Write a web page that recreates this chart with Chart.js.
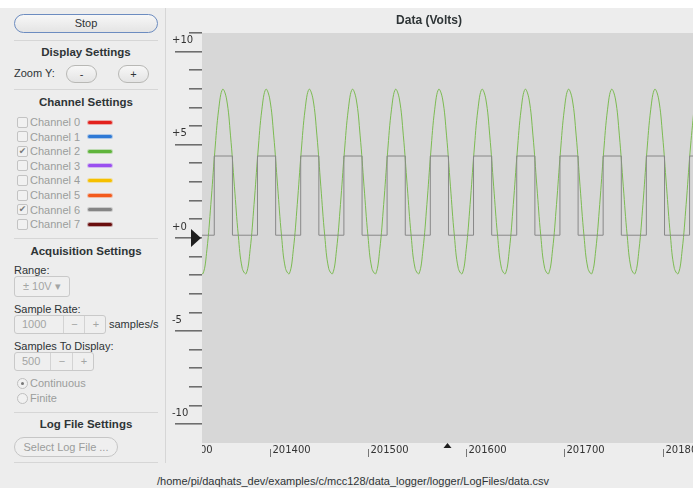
<!DOCTYPE html>
<html>
<head>
<meta charset="utf-8">
<title>MCC 128 Data Logger</title>
<script src="https://cdn.jsdelivr.net/npm/chart.js@4.4.1/dist/chart.umd.min.js"></script>
<style>
  html, body { margin: 0; padding: 0; }
  body { width: 693px; height: 488px; background: #ededed; position: relative; overflow: hidden;
         font-family: "Liberation Sans", Arial, sans-serif; font-size: 11px; color: #2e3436; }
  #topbar { position: absolute; left: 0; top: 0; width: 693px; height: 8px; background: #fff; }
  #vsep { position: absolute; left: 165px; top: 8px; width: 1px; height: 455px; background: #d6d6d6; }
  .sep { position: absolute; left: 14px; width: 144px; height: 1px; background: #d6d6d6; }
  .hdr { position: absolute; left: 14px; width: 144px; text-align: center; font-weight: bold;
         font-size: 11.5px; line-height: 14px; }
  .lbl { position: absolute; left: 14px; line-height: 14px; white-space: nowrap; }
  .dim { color: #9b9d9c; }
  .btn { position: absolute; box-sizing: border-box; border: 1px solid #b8b8b5; border-radius: 10px;
         background: linear-gradient(#f7f7f7, #e4e4e4); text-align: center; }
  .box { position: absolute; box-sizing: border-box; border: 1px solid #c9c9c9; border-radius: 3px;
         background: #efefef; color: #a3a5a4; }
  .cell { position: absolute; top: 0; bottom: 0; border-left: 1px solid #d3d3d3; text-align: center; }
  .chk { position: absolute; left: 17px; width: 11px; height: 11px; box-sizing: border-box;
         border: 1px solid #c3c3c3; border-radius: 2px; background: #f1f1f1; color: #7a7a7a;
         font-size: 9px; line-height: 9px; text-align: center; font-family: "DejaVu Sans"; }
  .sw { position: absolute; left: 88px; width: 24px; height: 3px; border-radius: 2px; }
  .radio { position: absolute; left: 17px; width: 11px; height: 11px; box-sizing: border-box;
           border: 1px solid #bfbfbf; border-radius: 50%; background: #f1f1f1; }
  .radio.on::after { content: ""; position: absolute; left: 3px; top: 3px; width: 3px; height: 3px;
                     border-radius: 50%; background: #777; }
  #chartWrap { position: absolute; left: 165px; top: 8px; width: 528px; height: 457px; }
  #status { position: absolute; left: 157px; top: 474px; line-height: 14px; white-space: nowrap; }
</style>
</head>
<body>
<div id="topbar"></div>
<div id="vsep"></div>

<div class="btn" style="left:14px;top:14px;width:144px;height:19px;line-height:17px;border-color:#6c8cc0;">Stop</div>
<div class="sep" style="top:40px"></div>

<div class="hdr" style="top:45px">Display Settings</div>
<div class="lbl" style="top:66px">Zoom Y:</div>
<div class="btn" style="left:66px;top:65px;width:31px;height:18px;line-height:16px;">-</div>
<div class="btn" style="left:118px;top:65px;width:31px;height:18px;line-height:16px;">+</div>
<div class="sep" style="top:89px"></div>

<div class="hdr" style="top:95px">Channel Settings</div>
<div id="channels"></div>
<div class="sep" style="top:238px"></div>

<div class="hdr" style="top:244px">Acquisition Settings</div>
<div class="lbl" style="top:263px">Range:</div>
<div class="box" style="left:14px;top:276px;width:56px;height:21px;line-height:19px;padding-left:8px;">± 10V ▾</div>
<div class="lbl" style="top:302px">Sample Rate:</div>
<div class="box" style="left:14px;top:315px;width:92px;height:19px;line-height:17px;">
  <span style="position:absolute;left:7px;">1000</span>
  <div class="cell" style="left:48px;width:21px;">−</div>
  <div class="cell" style="left:69px;width:22px;">+</div>
</div>
<div class="lbl" style="left:109px;top:317px">samples/s</div>
<div class="lbl" style="top:339px">Samples To Display:</div>
<div class="box" style="left:14px;top:352px;width:80px;height:19px;line-height:17px;">
  <span style="position:absolute;left:7px;">500</span>
  <div class="cell" style="left:35px;width:22px;">−</div>
  <div class="cell" style="left:57px;width:22px;">+</div>
</div>
<div class="radio on" style="top:378px"></div>
<div class="lbl dim" style="left:30px;top:376px">Continuous</div>
<div class="radio" style="top:393px"></div>
<div class="lbl dim" style="left:30px;top:391px">Finite</div>
<div class="sep" style="top:412px"></div>

<div class="hdr" style="top:417px">Log File Settings</div>
<div class="btn dim" style="left:14px;top:437px;width:104px;height:20px;line-height:18px;border-color:#c6c6c6;background:#efefef;">Select Log File ...</div>
<div class="sep" style="top:462px"></div>

<div id="chartWrap"><canvas id="dataChart"></canvas></div>
<div id="status">/home/pi/daqhats_dev/examples/c/mcc128/data_logger/logger/LogFiles/data.csv</div>

<script>
// side panel channel list
const channelNames = ['Channel 0', 'Channel 1', 'Channel 2', 'Channel 3', 'Channel 4', 'Channel 5', 'Channel 6', 'Channel 7'];
const channelColors = ['#e3211c', '#2f7ad6', '#5fb43c', '#9a4ff0', '#f6c000', '#f35b1c', '#858585', '#6a0d0d'];
const channelChecked = [false, false, true, false, false, false, true, false];

// axis ranges and ruler labels
const xMin = 201331, xMax = 201831;
const yMin = -11, yMax = 11;
const yTickValues = [10, 5, 0, -5, -10];
const yTickLabels = ['+10', '+5', '+0', '-5', '-10'];
const xTickValues = [201300, 201400, 201500, 201600, 201700, 201800];
const xTickLabels = ['201300', '201400', '201500', '201600', '201700', '201800'];
const cursorX = 201581, cursorY = 0;

// channel 2: sine, read every 4 samples starting at sample 201328
const ch2Start = 201328, ch2Step = 4;
const ch2Volts = [
  -1.63, -1.91, -0.63, 1.80, 4.61, 6.91, 7.98, 7.46, 5.52, 2.78, 0.12,
  -1.63, -1.91, -0.63, 1.80, 4.61, 6.91, 7.98, 7.46, 5.52, 2.78, 0.12,
  -1.63, -1.91, -0.63, 1.80, 4.61, 6.91, 7.98, 7.46, 5.52, 2.78, 0.12,
  -1.63, -1.91, -0.63, 1.80, 4.61, 6.91, 7.98, 7.46, 5.52, 2.78, 0.12,
  -1.63, -1.91, -0.63, 1.80, 4.61, 6.91, 7.98, 7.46, 5.52, 2.78, 0.12,
  -1.63, -1.91, -0.63, 1.80, 4.61, 6.91, 7.98, 7.46, 5.52, 2.78, 0.12,
  -1.63, -1.91, -0.63, 1.80, 4.61, 6.91, 7.98, 7.46, 5.52, 2.78, 0.12,
  -1.63, -1.91, -0.63, 1.80, 4.61, 6.91, 7.98, 7.46, 5.52, 2.78, 0.12,
  -1.63, -1.91, -0.63, 1.80, 4.61, 6.91, 7.98, 7.46, 5.52, 2.78, 0.12,
  -1.63, -1.91, -0.63, 1.80, 4.61, 6.91, 7.98, 7.46, 5.52, 2.78, 0.12,
  -1.63, -1.91, -0.63, 1.80, 4.61, 6.91, 7.98, 7.46, 5.52, 2.78, 0.12,
  -1.63, -1.91, -0.63, 1.80, 4.61, 6.91
];

// channel 6: square wave, sample number of each level change
const ch6Samples = [201328, 201343.5, 201362, 201387.5, 201406, 201431.5, 201450, 201475.5, 201494,
  201519.5, 201538, 201563.5, 201582, 201607.5, 201626, 201651.5, 201670, 201695.5, 201714,
  201739.5, 201758, 201783.5, 201802, 201827.5, 201832];
const ch6Volts = [0.15, 4.4, 0.15, 4.4, 0.15, 4.4, 0.15, 4.4, 0.15, 4.4, 0.15, 4.4, 0.15,
  4.4, 0.15, 4.4, 0.15, 4.4, 0.15, 4.4, 0.15, 4.4, 0.15, 4.4, 4.4];

const chWrap = document.getElementById('channels');
channelNames.forEach((name, i) => {
  const cy = 122 + i * 14.6;
  chWrap.insertAdjacentHTML('beforeend',
    '<div class="chk" style="top:' + (cy - 5.5) + 'px">' + (channelChecked[i] ? '✔' : '') + '</div>' +
    '<div class="lbl dim" style="left:30px;top:' + (cy - 7) + 'px">' + name + '</div>' +
    '<div class="sw" style="top:' + (cy - 1.5) + 'px;background:' + channelColors[i] +
    ';box-shadow:0 0 0 1px ' + channelColors[i] + '55"></div>');
});

const plotBackground = {
  id: 'plotBackground',
  beforeDraw(chart) {
    const { ctx, chartArea: a } = chart;
    ctx.save();
    ctx.fillStyle = '#d7d7d7';
    ctx.fillRect(a.left, a.top, a.right - a.left, a.bottom - a.top);
    ctx.restore();
  }
};

// databox style rulers drawn from the chart scales
const rulers = {
  id: 'rulers',
  afterDraw(chart) {
    const { ctx, chartArea: a, scales: { x, y } } = chart;
    ctx.save();
    for (let v = yMin + 1; v <= yMax; v++) {
      const py = Math.round(y.getPixelForValue(v));
      const len = v % 5 === 0 ? 27 : 13;
      ctx.fillStyle = '#6e6e6e';
      ctx.fillRect(a.left - len, py - 1, len, 1);
      ctx.fillStyle = '#a2a2a2';
      ctx.fillRect(a.left - len, py, len, 1);
    }
    ctx.fillStyle = '#333';
    ctx.font = '10px "DejaVu Sans"';
    ctx.textBaseline = 'middle';
    ctx.textAlign = 'left';
    yTickValues.forEach((v, i) => {
      const py = y.getPixelForValue(v);
      ctx.fillText(yTickLabels[i], 7, Math.max(py - 11, a.top + 4));
    });

    // cursor marker on the y ruler
    const cy = y.getPixelForValue(cursorY);
    ctx.fillStyle = '#1e1e1e';
    ctx.beginPath();
    ctx.moveTo(a.left - 1, cy);
    ctx.lineTo(a.left - 11, cy - 9);
    ctx.lineTo(a.left - 11, cy + 9);
    ctx.closePath();
    ctx.fill();

    // x ruler, clipped to the plot width
    ctx.beginPath();
    ctx.rect(a.left, a.bottom, chart.width - a.left, chart.height - a.bottom);
    ctx.clip();
    ctx.strokeStyle = '#777';
    ctx.lineWidth = 1;
    ctx.fillStyle = '#333';
    xTickValues.forEach((v, i) => {
      const px = Math.round(x.getPixelForValue(v)) + 0.5;
      ctx.beginPath();
      ctx.moveTo(px, a.bottom + 6);
      ctx.lineTo(px, a.bottom + 14);
      ctx.stroke();
      ctx.fillText(xTickLabels[i], px + 2, a.bottom + 7);
    });
    const cx = x.getPixelForValue(cursorX);
    ctx.fillStyle = '#1e1e1e';
    ctx.beginPath();
    ctx.moveTo(cx, a.bottom);
    ctx.lineTo(cx - 4, a.bottom + 5);
    ctx.lineTo(cx + 4, a.bottom + 5);
    ctx.closePath();
    ctx.fill();
    ctx.restore();
  }
};

const ch2Points = ch2Volts.map((v, i) => ({ x: ch2Start + i * ch2Step, y: v }));
const ch6Points = ch6Samples.map((s, i) => ({ x: s, y: ch6Volts[i] }));

new Chart(document.getElementById('dataChart'), {
  type: 'line',
  data: {
    datasets: [
      {
        label: 'Channel 6',
        data: ch6Points,
        borderColor: '#888888',
        borderWidth: 1,
        stepped: true,
        order: 0
      },
      {
        label: 'Channel 2',
        data: ch2Points,
        borderColor: '#7cbb52',
        borderWidth: 1,
        tension: 0.4,
        order: 1
      }
    ]
  },
  options: {
    responsive: true,
    maintainAspectRatio: false,
    animation: false,
    layout: { padding: 0 },
    elements: { point: { radius: 0 } },
    scales: {
      x: {
        type: 'linear',
        min: xMin,
        max: xMax,
        ticks: { display: false },
        grid: { display: false },
        border: { display: false },
        afterFit(scale) { scale.height = 22; }
      },
      y: {
        min: yMin,
        max: yMax,
        ticks: { display: false },
        grid: { display: false },
        border: { display: false },
        afterFit(scale) { scale.width = 37; }
      }
    },
    plugins: {
      legend: { display: false },
      tooltip: { enabled: false },
      title: {
        display: true,
        text: 'Data (Volts)',
        color: '#2e3436',
        font: { family: 'Liberation Sans', size: 12, weight: 'bold', lineHeight: 1.2 },
        padding: { top: 5.5, bottom: 5.1 }
      }
    }
  },
  plugins: [plotBackground, rulers]
});
</script>
</body>
</html>
